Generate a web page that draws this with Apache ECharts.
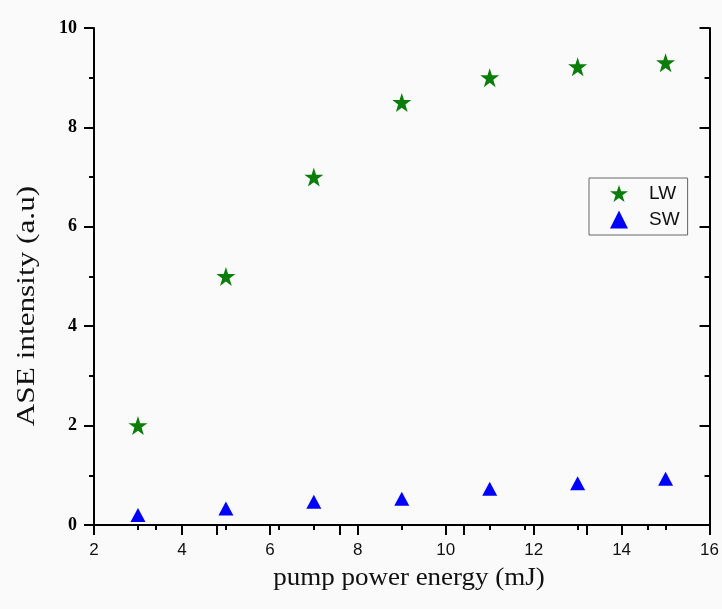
<!DOCTYPE html>
<html>
<head>
<meta charset="utf-8">
<script src="https://cdn.jsdelivr.net/npm/echarts@6/dist/echarts.min.js"></script>
<style>
  html, body { margin: 0; padding: 0; background: #fafafa; }
  #chart { width: 722px; height: 609px; }
</style>
</head>
<body>
<div id="chart"></div>
<script>
// pump power energy (mJ)
const pumpEnergy = [3, 5, 7, 9, 11, 13, 15]
// ASE intensity (a.u)
const lwValues = [2.0, 5.0, 7.0, 8.5, 9.0, 9.22, 9.3]
const swValues = [0.2, 0.33, 0.47, 0.53, 0.73, 0.84, 0.93]

const seriesNames = ['LW', 'SW']

// 五角星
const starPath = 'path://M50,0 L61.8,35.4 L100,35.4 L69.1,57.3 L80.9,95.1 L50,73.2 L19.1,95.1 L30.9,57.3 L0,35.4 L38.2,35.4 Z'

const chart = echarts.init(document.getElementById('chart'))

const axisLine = { show: true, lineStyle: { color: '#000', width: 2 } }
const tickStyle = { color: '#000', width: 2 }

const option = {
  backgroundColor: '#fafafa',
  animation: false,
  grid: { left: 94, right: 9, top: 28, bottom: 84 },
  legend: {
    orient: 'vertical',
    left: 589,
    top: 178,
    padding: [6, 8, 6, 21],
    itemWidth: 18,
    itemHeight: 18,
    itemGap: 7,
    borderColor: '#666',
    borderWidth: 1,
    textStyle: {
      fontFamily: 'Liberation Sans',
      fontSize: 19,
      color: '#111',
      padding: [0, 0, 0, 16]
    },
    data: seriesNames
  },
  xAxis: [
    {
      type: 'value',
      min: 2,
      max: 16,
      interval: 2,
      axisLine: axisLine,
      axisTick: { inside: false, length: 10, lineStyle: tickStyle },
      minorTick: { show: true, splitNumber: 2, length: 5, lineStyle: tickStyle },
      splitLine: { show: false },
      axisLabel: {
        margin: 17,
        fontFamily: 'Liberation Sans',
        fontSize: 17,
        color: '#111'
      }
    },
    {
      type: 'value',
      position: 'top',
      min: 0,
      max: 10,
      interval: 2,
      axisLine: axisLine,
      axisTick: { inside: true, length: 10, lineStyle: tickStyle },
      minorTick: { show: true, splitNumber: 2, length: 5, lineStyle: tickStyle },
      splitLine: { show: false },
      axisLabel: { show: false }
    }
  ],
  yAxis: [
    {
      type: 'value',
      min: 0,
      max: 10,
      interval: 2,
      axisLine: axisLine,
      axisTick: { inside: false, length: 10, lineStyle: tickStyle },
      minorTick: { show: true, splitNumber: 2, length: 5, lineStyle: tickStyle },
      splitLine: { show: false },
      axisLabel: {
        margin: 17,
        fontFamily: 'Liberation Serif',
        fontWeight: 'bold',
        fontSize: 18,
        color: '#000'
      }
    },
    {
      type: 'value',
      position: 'right',
      min: 0,
      max: 10,
      interval: 2,
      axisLine: axisLine,
      axisTick: { inside: true, length: 10, lineStyle: tickStyle },
      minorTick: { show: true, splitNumber: 2, length: 5, lineStyle: tickStyle },
      splitLine: { show: false },
      axisLabel: { show: false }
    }
  ],
  graphic: [
    {
      type: 'text',
      x: 27,
      y: 306,
      rotation: Math.PI / 2,
      scaleX: 1.25,
      style: {
        text: 'ASE intensity (a.u)',
        font: '25px "Liberation Serif"',
        fill: '#111',
        align: 'center',
        verticalAlign: 'middle'
      }
    },
    {
      type: 'text',
      x: 409,
      y: 578,
      scaleX: 1.08,
      style: {
        text: 'pump power energy (mJ)',
        font: '25px "Liberation Serif"',
        fill: '#111',
        align: 'center',
        verticalAlign: 'middle'
      }
    }
  ],
  series: [
    {
      name: seriesNames[0],
      type: 'scatter',
      symbol: starPath,
      symbolSize: 19,
      itemStyle: { color: '#0a7d0a', opacity: 1 },
      data: pumpEnergy.map((x, i) => [x, lwValues[i]])
    },
    {
      name: seriesNames[1],
      type: 'scatter',
      symbol: 'triangle',
      symbolSize: [15, 14],
      itemStyle: { color: '#0000ff', opacity: 1 },
      data: pumpEnergy.map((x, i) => [x, swValues[i]])
    }
  ]
}

chart.setOption(option)
</script>
</body>
</html>
